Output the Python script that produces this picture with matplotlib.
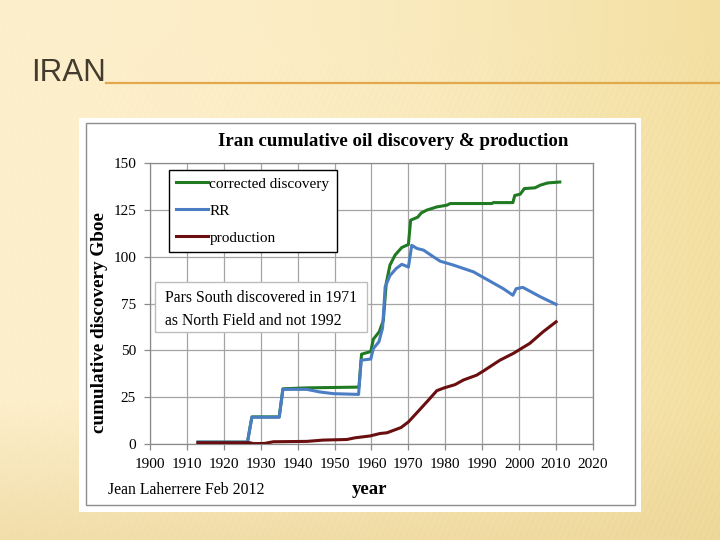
import numpy as np
import matplotlib
matplotlib.use("Agg")
import matplotlib.pyplot as plt
from matplotlib.patches import Rectangle

# ---------------- data ----------------
disc_years = [1913, 1926.4, 1927.6, 1935, 1936, 1942.5, 1956.6, 1957.3, 1959.8, 1960.5,
              1962.1, 1963.2, 1964, 1965, 1966.4, 1968.2, 1970, 1970.6, 1972.5, 1973.5,
              1975, 1977.7, 1980.4, 1981.3, 1992.6, 1993, 1998.3, 1998.8, 2000.3, 2001.4,
              2004.3, 2005.7, 2007.7, 2011]
disc_values = [1, 1, 14.5, 14.5, 29.5, 30, 30.4, 48, 49.4, 56,
               60, 66, 86, 95.6, 101, 105, 106.6, 119.6, 121.2, 123.5,
               125, 126.7, 127.6, 128.5, 128.5, 129, 129, 132.8, 133.5, 136.5,
               136.9, 138.3, 139.5, 140]

rr_years = [1913, 1926.4, 1927.6, 1935, 1936, 1942.5, 1946, 1949.7, 1956.5, 1957.2,
            1959.8, 1960.5, 1962, 1963, 1963.7, 1965, 1966.7, 1968.2, 1969.5, 1970,
            1970.9, 1972.3, 1974.1, 1976.8, 1978.6, 1982.2, 1987.6, 1991.2, 1995.7,
            1998.3, 1999.2, 2001, 2005.7, 2010]
rr_values = [1, 1, 14.3, 14.3, 29.2, 29.2, 27.8, 26.9, 26.5, 44.8,
             45.4, 51, 54.6, 62, 84, 90, 93.8, 96, 95, 94.5,
             106.2, 104.5, 103.6, 100, 97.7, 95.6, 92, 88, 83,
             79.5, 83, 83.7, 78.7, 74.6]

prod_years = [1913, 1927, 1928, 1931, 1933.4, 1942.5, 1947, 1953.3, 1955.5, 1959.6,
              1962.3, 1964.2, 1968, 1970, 1972.9, 1975.3, 1977.7, 1979.7, 1982.6,
              1984.9, 1988.5, 1990.3, 1994.8, 1998.4, 2002.9, 2006.5, 2010]
prod_values = [0.7, 0.7, 0.2, 0.3, 1.2, 1.4, 2.1, 2.4, 3.3, 4.3,
               5.6, 6, 8.8, 11.8, 18, 23.2, 28.5, 30, 31.7,
               34.2, 36.8, 39, 44.8, 48.4, 53.8, 60, 65.3]

series_labels = ["corrected discovery", "RR", "production"]
x_ticks = [1900, 1910, 1920, 1930, 1940, 1950, 1960, 1970, 1980, 1990, 2000, 2010, 2020]
y_ticks = [0, 25, 50, 75, 100, 125, 150]

GREEN = "#207A22"
BLUE = "#4A7DC4"
DRED = "#6A0E10"
SERIF = "Liberation Serif"

W, H = 720, 540
fig = plt.figure(figsize=(7.2, 5.4), dpi=100)

def fx(px):
    return px / W

def fy(py):
    return 1 - py / H

# ---------------- slide background ----------------
bg = fig.add_axes([0, 0, 1, 1])
bg.set_zorder(-10)
yy, xx = np.mgrid[0:H, 0:W]
top = np.array([253, 239, 203]) / 255.0
right = np.array([243, 223, 160]) / 255.0
bottom = np.array([234, 210, 148]) / 255.0
tx = (xx / W) ** 2
ty = np.clip((yy - 400) / 140.0, 0, 1)
img = top[None, None, :] * (1 - tx[..., None]) + right[None, None, :] * tx[..., None]
img = img * (1 - ty[..., None] * 0.6) + bottom[None, None, :] * (ty[..., None] * 0.6)
stripes = 0.006 * np.sin((xx + yy * 0.45) * 2 * np.pi / 6.0)
mask = np.clip((yy - 25) / 60.0, 0, 1) * (0.4 + 0.6 * xx / W)
img = np.clip(img + (stripes * mask)[..., None], 0, 1)
bg.imshow(img, extent=[0, W, H, 0], aspect="auto")
bg.set_xlim(0, W)
bg.set_ylim(H, 0)
bg.axis("off")

# chart picture frame (drawn in the background axes, pixel coords)
bg.add_patch(Rectangle((79, 118), 641 - 79, 512 - 118, facecolor="white", edgecolor="none", zorder=2))
bg.add_patch(Rectangle((85.5, 122.5), 635 - 85.5, 505 - 122.5, facecolor="none",
                       edgecolor="#8E8E8E", lw=1.0, zorder=3))
bg.plot([106, 720], [82.5, 82.5], color="#E2A84C", lw=1.6, zorder=3)

fig.text(fx(31), fy(81), "IRAN", fontsize=22.5, family="Liberation Sans",
         color="#433C2E", ha="left", va="baseline")

# ---------------- chart ----------------
ax = fig.add_axes([fx(150), fy(444), fx(593) - fx(150), fy(163.3) - fy(444)])
ax.set_zorder(0)
ax.set_facecolor("white")
ax.set_xlim(1900, 2020)
ax.set_ylim(0, 150)
ax.set_xticks(x_ticks)
ax.set_yticks(y_ticks)
ax.set_xticklabels([str(v) for v in x_ticks], family=SERIF, fontsize=11)
ax.set_yticklabels([str(v) for v in y_ticks], family=SERIF, fontsize=11)
ax.grid(True, color="#A4A4A4", lw=0.9)
for s in ax.spines.values():
    s.set_color("#8A8A8A")
    s.set_linewidth(0.9)
ax.tick_params(axis="both", colors="#8A8A8A", length=4, width=0.9, labelcolor="black")
ax.tick_params(axis="y", pad=6)
ax.tick_params(axis="x", pad=6)

l1, = ax.plot(disc_years, disc_values, color=GREEN, lw=2.2, label=series_labels[0], zorder=3)
l2, = ax.plot(rr_years, rr_values, color=BLUE, lw=2.2, label=series_labels[1], zorder=4)
l3, = ax.plot(prod_years, prod_values, color=DRED, lw=2.2, label=series_labels[2], zorder=5)

leg = ax.legend(handles=[l1, l2, l3], loc="upper left",
                bbox_to_anchor=((168.5 - 150) / 443, 1 - (169.5 - 163.3) / 280.7),
                prop={"family": SERIF, "size": 11}, frameon=True, fancybox=False,
                edgecolor="black", framealpha=1, borderpad=0.48, handlelength=2.1,
                handletextpad=0.1, labelspacing=0.88, borderaxespad=0)
leg.get_frame().set_linewidth(1.0)
leg.set_zorder(10)

# annotation box
ax.add_patch(Rectangle(((155 - 150) / 443, 1 - (331.5 - 163.3) / 280.7),
                       (366.5 - 155) / 443, (331.5 - 281.5) / 280.7,
                       transform=ax.transAxes, facecolor="white", edgecolor="#BDBDBD",
                       lw=1.0, zorder=10))
fig.text(fx(165), fy(302), "Pars South discovered in 1971", family=SERIF, fontsize=11.3,
         ha="left", va="baseline", zorder=11)
fig.text(fx(165), fy(325), "as North Field and not 1992", family=SERIF, fontsize=11.3,
         ha="left", va="baseline", zorder=11)

# titles
fig.text(fx(393), fy(142), "Iran cumulative oil discovery & production", family=SERIF,
         fontsize=13.6, weight="bold", ha="center", va="center")
fig.text(fx(99), fy(323), "cumulative discovery Gboe", family=SERIF, fontsize=13.8,
         weight="bold", ha="center", va="center", rotation=90)
fig.text(fx(370), fy(490), "year", family=SERIF, fontsize=13.5, weight="bold",
         ha="center", va="center")
fig.text(fx(108), fy(490), "Jean Laherrere Feb 2012", family=SERIF, fontsize=11.3,
         ha="left", va="center")

fig.savefig("out.png", dpi=100)
